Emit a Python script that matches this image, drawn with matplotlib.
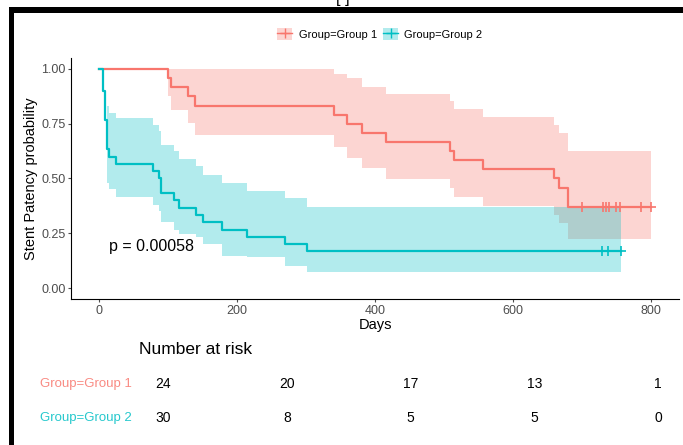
import numpy as np
import matplotlib
matplotlib.use('Agg')
import matplotlib.pyplot as plt
from matplotlib.patches import Patch, Rectangle
from matplotlib.lines import Line2D
from matplotlib.legend_handler import HandlerTuple

plt.rcParams['font.family'] = ['Liberation Sans', 'DejaVu Sans']

# Group 1 (n=24)
t1 = [0, 100, 105, 130, 139, 340, 359, 381, 416, 509, 515, 556, 659, 667, 680]
s1 = [1, 0.958, 0.917, 0.875, 0.833, 0.792, 0.75, 0.708, 0.667, 0.625, 0.583, 0.542, 0.5, 0.458, 0.37]
up1 = [1, 1, 1, 1, 1, 0.978, 0.959, 0.918, 0.886, 0.852, 0.819, 0.782, 0.746, 0.708, 0.627]
lo1 = [1, 0.878, 0.814, 0.753, 0.70, 0.644, 0.595, 0.548, 0.50, 0.457, 0.415, 0.373, 0.335, 0.297, 0.224]
end1 = 800
cens1 = [699, 730, 735, 738, 749, 754, 785, 799]

# Group 2 (n=30)
t2 = [0, 7, 9, 12, 15, 25, 78, 87, 90, 109, 116, 141, 151, 179, 215, 270, 301]
s2 = [1, 0.9, 0.767, 0.633, 0.6, 0.567, 0.533, 0.5, 0.433, 0.4, 0.367, 0.333, 0.3, 0.267, 0.233, 0.2, 0.167]
up2 = [1, 0.9, 0.767, 0.83, 0.80, 0.775, 0.745, 0.715, 0.655, 0.625, 0.59, 0.555, 0.517, 0.479, 0.444, 0.41, 0.368]
lo2 = [1, 0.9, 0.767, 0.48, 0.45, 0.415, 0.38, 0.35, 0.30, 0.265, 0.245, 0.235, 0.20, 0.147, 0.14, 0.099, 0.073]
end2 = 756
cens2 = [729, 737, 756]

risk_times = [0, 200, 400, 600, 800]
risk1 = [24, 20, 17, 13, 1]
risk2 = [30, 8, 5, 5, 0]

red = '#F8766D'
cyan = '#00BFC4'

fig = plt.figure(figsize=(6.83, 4.45), dpi=100)
ax = fig.add_axes([71/683, 1 - 299/445, 608/683, 241/445])


def draw_group(t, s, up, lo, end, cens, col):
    tt = list(t) + [end]
    ss = list(s) + [s[-1]]
    uu = list(up) + [up[-1]]
    ll = list(lo) + [lo[-1]]
    ax.fill_between(tt, ll, uu, step='post', color=col, alpha=0.3, linewidth=0)
    ax.step(tt, ss, where='post', color=col, linewidth=1.6)
    ax.plot(cens, [s[-1]] * len(cens), linestyle='none', marker='+',
            markersize=7, markeredgewidth=1.2, color=col)


draw_group(t1, s1, up1, lo1, end1, cens1, red)
draw_group(t2, s2, up2, lo2, end2, cens2, cyan)

ax.set_xlim(-40, 840)
ax.set_ylim(-0.05, 1.05)
ax.set_xticks([0, 200, 400, 600, 800])
ax.set_yticks([0, 0.25, 0.5, 0.75, 1.0])
ax.set_yticklabels(['0.00', '0.25', '0.50', '0.75', '1.00'])
for sp in ['top', 'right']:
    ax.spines[sp].set_visible(False)
for sp in ['left', 'bottom']:
    ax.spines[sp].set_linewidth(0.8)
ax.tick_params(labelsize=9, colors='#4D4D4D', length=2.2, width=0.8, pad=1.8)
ax.set_xlabel('Days', fontsize=10.5, labelpad=1)
ax.set_ylabel('Stent Patency probability', fontsize=10.5, labelpad=2)

ax.text(15, 0.19, 'p = 0.00058', fontsize=11.5, va='center', ha='left')

# legend
h1 = (Patch(color=red, alpha=0.3, linewidth=0),
      Line2D([], [], color=red, marker='+', markersize=7, linewidth=1))
h2 = (Patch(color=cyan, alpha=0.3, linewidth=0),
      Line2D([], [], color=cyan, marker='+', markersize=7, linewidth=1))
fig.legend([h1, h2], ['Group=Group 1', 'Group=Group 2'],
           handler_map={tuple: HandlerTuple(ndivide=1, pad=0)},
           loc='center', bbox_to_anchor=(380/683, 1 - 34/445), ncol=2,
           frameon=False, fontsize=8, handlelength=1.3, handleheight=1.3,
           columnspacing=0.6, handletextpad=0.6)

# risk table
rax = fig.add_axes([134/683, 1 - 430/445, 553/683, 90/445])
rax.set_xlim(-47, 847)
rax.set_ylim(0, 90)
rax.axis('off')
rax.text(-47 + 8, 80, 'Number at risk', fontsize=12.5, va='center', ha='left')
for x, n in zip(risk_times, risk1):
    rax.text(x, 46, str(n), fontsize=10, ha='center', va='center')
for x, n in zip(risk_times, risk2):
    rax.text(x, 12, str(n), fontsize=10, ha='center', va='center')
fig.text(132/683, 1 - 384/445, 'Group=Group 1', color=red, fontsize=9.5,
         ha='right', va='center', alpha=0.85)
fig.text(132/683, 1 - 418/445, 'Group=Group 2', color=cyan, fontsize=9.5,
         ha='right', va='center', alpha=0.85)

# black frame of the panel
fig.add_artist(Rectangle((9/683, 0), 5/683, 1 - 7/445, transform=fig.transFigure,
                         color='black', linewidth=0))
fig.add_artist(Rectangle((9/683, 1 - 13/445), 1, 6/445, transform=fig.transFigure,
                         color='black', linewidth=0))
fig.text(343/683, 1 + 1/445, '[ ]', fontsize=12, ha='center', va='center')

fig.savefig('out.png', dpi=100)
